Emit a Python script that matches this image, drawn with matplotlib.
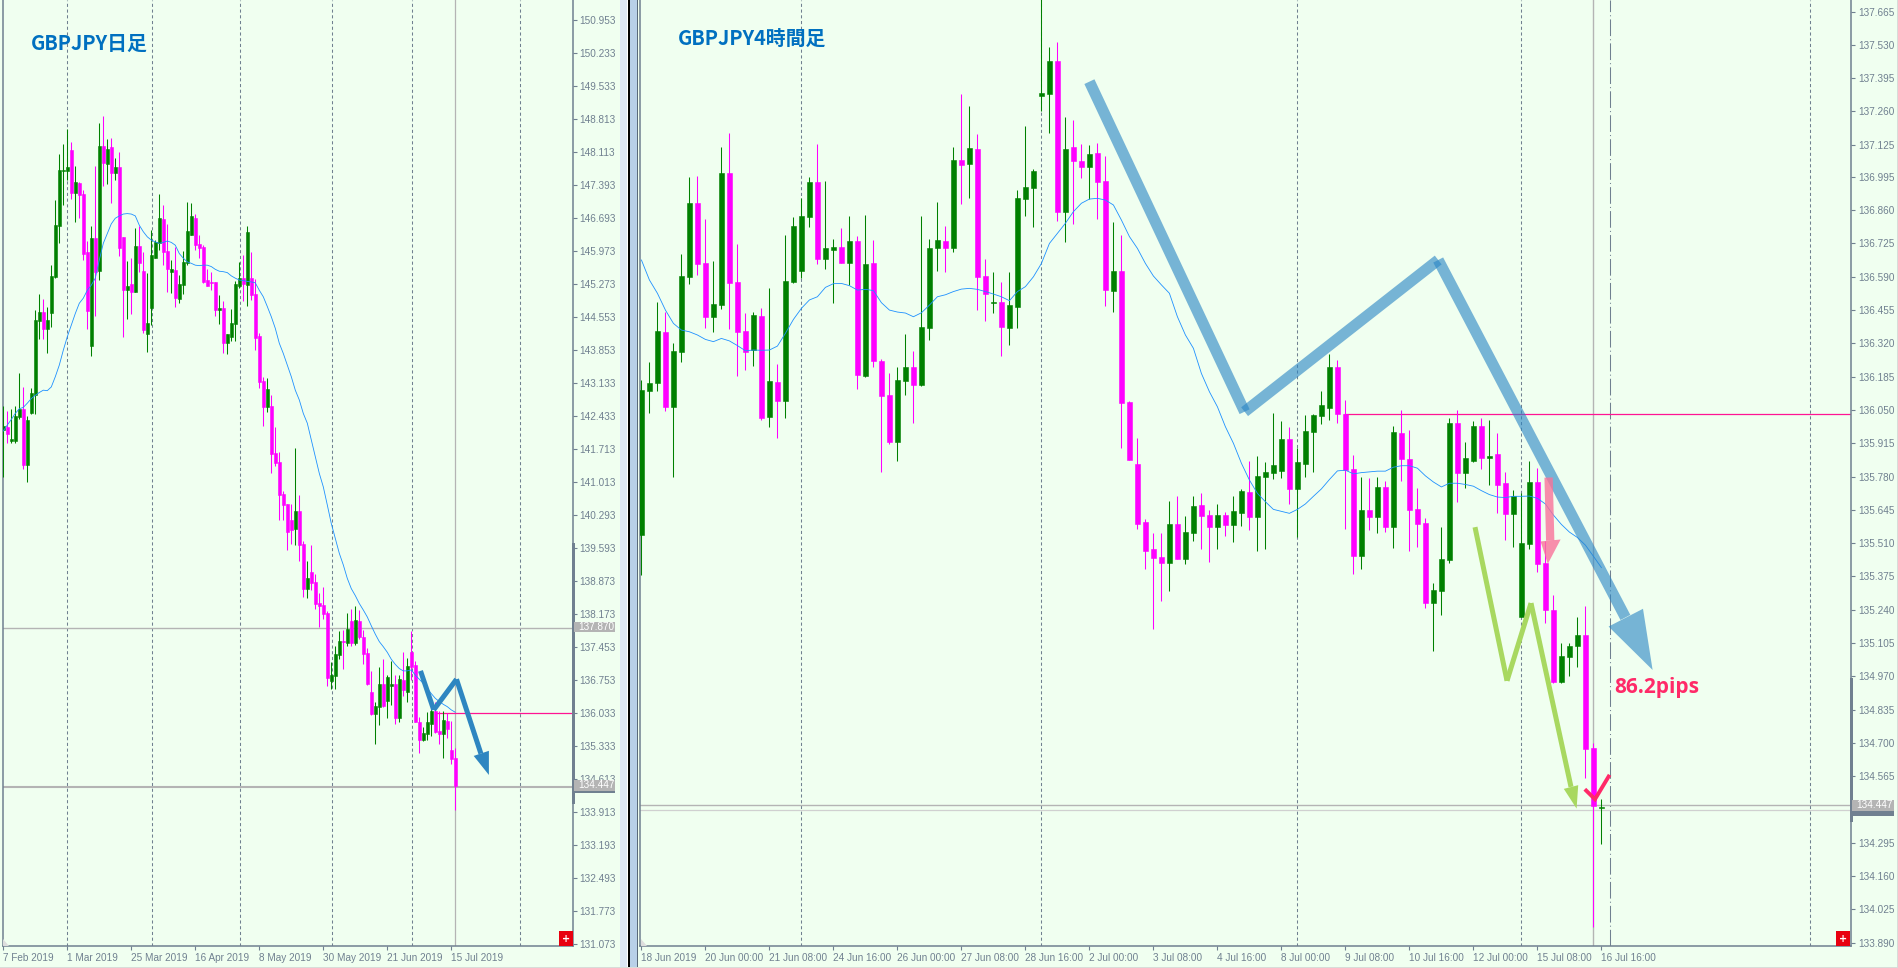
import matplotlib
matplotlib.use("Agg")
import matplotlib.pyplot as plt
from matplotlib.patches import Rectangle, Polygon
from matplotlib.transforms import Affine2D

# ---------- daily chart ----------
d_colour = ("GPGGGPGGGG" "PGGGGGGPGP" "PPGPGPGPGP" "PGPGPPGGGG" "PPGPGGGGPP"
            "PPPPGPGGGG" "PGPPPPGPPP" "PPPGPPGPPP" "PPGGGPGPGP" "PPPGGPGGPG"
            "PGPPPGGGPP" "GPPP")
d_high = [142.64,142.53,142.57,142.64,143.35,143.05,142.42,143.03,144.70,145.05,
          144.94,144.77,145.67,147.07,148.06,148.28,148.61,148.32,147.80,147.46,
          147.29,146.19,146.51,147.80,148.73,148.88,148.38,148.41,147.98,148.10,
          146.28,145.76,145.82,146.47,146.51,145.95,145.50,146.43,146.21,147.20,
          146.96,146.56,145.78,146.06,145.46,145.97,147.03,147.01,146.77,146.32,
          146.10,145.59,145.52,145.31,145.03,144.90,144.19,144.73,145.33,145.74,
          145.89,146.51,145.95,145.37,144.20,143.26,143.24,142.87,142.19,141.65,
          140.81,140.54,140.54,141.73,140.72,139.73,139.30,139.65,139.02,138.61,
          138.74,138.23,137.13,137.47,137.80,137.82,138.18,138.27,138.33,138.25,
          137.82,137.43,136.93,136.27,137.02,137.19,136.85,137.15,136.85,136.85,
          137.34,137.21,137.80,137.15,135.95,135.73,136.05,136.20,136.28,136.07,
          136.07,136.03,135.86,135.28]
d_top = [142.21,142.19,141.93,142.42,142.58,142.58,142.34,142.91,144.49,144.66,
         144.66,144.49,145.44,146.53,147.72,147.72,147.78,148.15,147.46,147.44,
         147.20,145.95,146.25,146.25,148.23,148.23,148.17,148.21,147.78,147.78,
         146.28,145.22,145.26,146.08,146.08,145.54,144.42,145.89,146.17,146.68,
         146.66,145.97,145.59,145.57,145.26,145.74,146.40,146.73,146.68,146.12,
         146.07,145.35,145.31,145.31,144.75,144.75,144.19,144.42,145.26,145.39,
         145.39,146.38,145.39,145.05,144.14,143.18,143.00,142.64,141.63,141.43,
         140.74,140.53,140.18,140.38,140.38,139.67,138.94,139.07,138.85,138.40,
         138.36,138.18,136.85,137.30,137.58,137.58,137.84,138.01,138.03,138.01,
         137.67,137.32,136.48,136.18,136.65,136.65,136.81,136.65,136.65,136.76,
         136.74,137.04,137.34,137.06,135.84,135.60,135.84,136.07,136.07,135.64,
         135.88,135.86,135.23,135.06]
d_bot = [142.12,142.04,141.89,141.89,142.40,141.37,141.37,142.49,142.88,144.47,
         144.30,144.30,144.64,145.41,146.51,147.70,147.70,147.22,147.22,147.18,
         145.91,144.68,143.93,145.52,145.54,147.87,147.85,147.65,147.65,146.04,
         145.13,145.13,145.09,145.09,145.72,144.27,144.19,144.75,145.82,146.15,
         145.95,145.59,145.52,144.96,144.94,145.24,145.72,146.32,146.10,146.04,
         145.31,145.22,145.28,144.70,144.70,143.99,143.99,144.12,144.40,145.22,
         145.26,145.24,145.03,144.10,143.15,142.62,142.62,141.60,141.41,140.72,
         140.51,139.93,139.98,139.99,139.65,138.70,138.70,138.83,138.38,138.33,
         138.16,136.78,136.72,136.83,137.28,137.56,137.54,137.54,137.54,137.67,
         137.30,136.65,136.01,136.01,136.16,136.18,136.29,136.61,135.92,135.92,
         136.53,136.48,137.02,135.84,135.45,135.45,135.58,135.79,135.62,135.58,
         135.58,135.69,135.04,134.46]
d_low = [141.12,141.85,141.85,141.85,142.36,141.28,141.00,142.47,142.47,144.08,
         144.08,143.78,144.34,145.39,146.15,146.96,147.50,147.09,146.60,146.68,
         145.78,144.30,143.71,144.58,145.35,147.37,147.42,147.01,147.50,145.87,
         144.12,144.51,144.62,145.09,145.52,144.21,143.80,144.38,145.82,146.00,
         145.67,145.09,145.07,144.77,144.86,145.05,145.67,146.32,146.00,145.82,
         145.28,145.22,145.13,144.58,144.40,143.78,143.76,144.04,144.04,145.18,
         144.90,144.79,144.92,143.84,143.03,142.21,142.51,141.20,141.35,140.18,
         140.18,139.54,139.68,139.65,139.30,138.53,138.51,138.68,138.27,137.88,
         138.05,136.61,136.55,136.55,137.19,136.98,137.47,137.47,137.49,137.62,
         137.09,136.63,135.99,135.36,135.77,136.17,135.92,136.20,135.79,135.84,
         136.40,136.27,136.74,135.84,135.17,135.43,135.45,135.54,135.60,135.36,
         135.06,135.49,134.93,133.94]
d_ma = [142.10,142.23,142.35,142.48,142.58,142.61,142.70,142.80,142.87,142.93,
        142.98,142.97,143.05,143.27,143.52,143.84,144.13,144.38,144.63,144.85,
        144.96,145.13,145.24,145.39,145.78,146.14,146.35,146.56,146.68,146.73,
        146.77,146.78,146.77,146.73,146.53,146.39,146.28,146.21,146.17,146.14,
        146.16,146.19,146.16,146.10,145.92,145.82,145.74,145.71,145.67,145.66,
        145.67,145.67,145.64,145.58,145.54,145.53,145.51,145.44,145.39,145.35,
        145.34,145.32,145.31,145.29,145.13,144.99,144.78,144.56,144.31,143.99,
        143.77,143.52,143.27,142.98,142.77,142.48,142.27,141.91,141.55,141.19,
        140.90,140.51,140.11,139.79,139.47,139.22,138.93,138.71,138.56,138.39,
        138.25,138.10,137.91,137.73,137.57,137.46,137.34,137.19,137.08,136.99,
        136.94,136.94,136.96,136.85,136.76,136.67,136.56,136.45,136.35,136.28,
        136.22,136.17,136.10,136.05]
d_yticks = [150.953,150.233,149.533,148.813,148.113,147.393,146.693,145.973,145.273,144.553,
            143.853,143.133,142.433,141.713,141.013,140.293,139.593,138.873,138.173,137.453,
            136.753,136.033,135.333,134.613,133.913,133.193,132.493,131.773,131.073]
d_xticks = ["7 Feb 2019","1 Mar 2019","25 Mar 2019","16 Apr 2019","8 May 2019",
            "30 May 2019","21 Jun 2019","15 Jul 2019"]
d_grid = [16,37.1,59.1,82.1,102.1,129.1]

# ---------- 4-hour chart ----------
r_colour = ("GGGPGGGPPG" "GPPPGPGPGG" "GGPGGPGPGP" "PPGGPGGGPG" "PGPPGPGGGG"
            "GGPGPPGPPG" "PPPPPPGPGG" "PPGPGGPGGG" "GPGGGGGPPP" "GPGPGPPPPG"
            "GGPGGPGPPG" "GGPPPGGGPP" "G")
r_high = [136.171,136.243,136.486,136.448,136.320,136.682,136.994,136.998,136.824,136.654,
          137.116,137.171,136.723,136.443,136.447,136.462,136.543,136.236,136.759,136.831,
          136.908,136.994,137.128,136.978,136.743,136.788,136.836,136.755,136.840,136.739,
          136.257,136.200,136.224,136.358,136.289,136.836,136.743,136.893,136.796,137.116,
          137.331,137.282,137.169,136.662,136.609,136.569,136.609,136.942,137.201,137.027,
          137.750,137.521,137.542,137.238,137.226,137.128,137.124,137.132,137.080,136.812,
          136.759,136.086,135.936,135.608,135.551,135.551,135.681,135.701,135.620,135.701,
          135.713,135.644,135.669,135.636,135.701,135.730,135.842,135.863,135.840,136.037,
          136.007,135.981,135.897,136.030,136.034,136.128,136.277,136.252,136.090,135.867,
          135.779,135.776,135.779,135.764,135.984,136.049,135.969,135.733,135.612,135.349,
          135.575,136.019,136.049,135.920,136.007,136.019,136.008,135.957,135.799,135.724,
          135.715,135.844,135.814,135.520,135.300,135.104,135.104,135.210,135.254,134.700,
          134.473]
r_top = [136.131,136.158,136.370,136.366,136.289,136.593,136.889,136.889,136.646,136.480,
         137.011,137.011,136.569,136.370,136.435,136.431,136.167,136.163,136.573,136.796,
         136.836,136.974,136.974,136.707,136.711,136.711,136.735,136.735,136.642,136.646,
         136.248,136.111,136.171,136.224,136.224,136.386,136.707,136.739,136.735,137.063,
         137.063,137.112,137.108,136.593,136.488,136.488,136.475,136.909,136.954,137.019,
         137.335,137.465,137.465,137.108,137.116,137.059,137.088,137.092,136.978,136.613,
         136.613,136.082,135.831,135.596,135.486,135.454,135.588,135.588,135.555,135.661,
         135.665,135.624,135.624,135.624,135.640,135.721,135.717,135.782,135.799,135.826,
         135.932,135.932,135.838,135.963,136.030,136.069,136.224,136.224,136.034,135.811,
         135.644,135.644,135.738,135.738,135.960,135.957,135.850,135.648,135.592,135.320,
         135.444,135.996,135.996,135.855,135.984,135.984,135.862,135.872,135.753,135.703,
         135.510,135.758,135.758,135.429,135.239,135.052,135.093,135.137,135.137,134.681,
         134.440]
r_bot = [135.544,136.127,136.161,136.062,136.062,136.285,136.589,136.642,136.427,136.427,
         136.475,136.565,136.366,136.285,136.293,136.017,136.021,136.086,136.086,136.569,
         136.613,136.832,136.662,136.662,136.698,136.646,136.646,136.192,136.188,136.248,
         136.107,135.920,135.920,136.167,136.151,136.151,136.382,136.707,136.707,136.707,
         137.043,137.047,136.589,136.520,136.484,136.386,136.382,136.467,136.905,136.950,
         137.323,137.331,136.853,136.853,137.059,137.035,137.035,136.974,136.536,136.532,
         136.078,135.847,135.588,135.478,135.450,135.429,135.429,135.446,135.446,135.551,
         135.620,135.575,135.575,135.584,135.584,135.632,135.616,135.616,135.779,135.796,
         135.802,135.730,135.729,135.832,135.961,136.027,136.059,136.034,135.806,135.460,
         135.460,135.618,135.618,135.577,135.577,135.852,135.645,135.589,135.268,135.268,
         135.317,135.441,135.796,135.796,135.843,135.856,135.856,135.745,135.630,135.630,
         135.212,135.508,135.426,135.239,134.946,134.947,135.049,135.095,134.677,134.446,
         134.437]
r_low = [135.381,136.036,136.128,136.047,135.779,136.246,136.561,136.597,136.381,136.366,
         136.459,136.378,136.188,136.212,136.228,136.009,135.982,135.936,136.017,136.565,
         136.584,136.792,136.642,136.621,136.484,136.646,136.557,136.135,136.184,136.224,
         135.798,135.912,135.843,136.111,135.997,136.147,136.334,136.613,136.609,136.690,
         136.885,136.909,136.455,136.411,136.443,136.269,136.313,136.382,136.836,136.792,
         137.262,137.173,136.816,136.731,136.804,136.990,136.905,136.824,136.471,136.447,
         135.896,135.847,135.567,135.405,135.162,135.275,135.316,135.446,135.425,135.519,
         135.486,135.434,135.486,135.539,135.515,135.579,135.563,135.478,135.487,135.770,
         135.776,135.669,135.536,135.779,135.799,135.995,136.008,135.996,135.568,135.385,
         135.406,135.563,135.551,135.555,135.492,135.761,135.479,135.495,135.248,135.074,
         135.218,135.429,135.677,135.733,135.840,135.811,135.745,135.631,135.522,135.495,
         135.209,135.487,135.393,135.186,134.943,134.943,134.970,135.008,134.560,133.955,
         134.291]
r_ma = [136.658,136.577,136.523,136.455,136.401,136.374,136.367,136.354,136.336,136.327,
        136.340,136.330,136.311,136.290,136.293,136.292,136.293,136.309,136.361,136.417,
        136.462,136.496,136.509,136.547,136.562,136.563,136.554,136.536,136.539,136.534,
        136.485,136.455,136.447,136.443,136.428,136.444,136.475,136.509,136.517,136.530,
        136.540,136.543,136.539,136.530,136.520,136.509,136.493,136.530,136.550,136.590,
        136.644,136.725,136.766,136.807,136.854,136.888,136.905,136.908,136.901,136.881,
        136.820,136.753,136.705,136.644,136.593,136.557,136.523,136.428,136.354,136.300,
        136.198,136.124,136.063,135.982,135.915,135.834,135.766,135.712,135.678,135.647,
        135.639,135.631,135.647,135.669,135.700,135.730,135.768,135.803,135.806,135.791,
        135.796,135.799,135.802,135.802,135.818,135.824,135.824,135.814,135.783,135.758,
        135.738,135.753,135.753,135.748,135.741,135.723,135.707,135.697,135.695,135.700,
        135.700,135.701,135.692,135.669,135.624,135.586,135.555,135.533,135.502,135.457,
        135.411]
r_yticks = [137.665,137.530,137.395,137.260,137.125,136.995,136.860,136.725,136.590,136.455,
            136.320,136.185,136.050,135.915,135.780,135.645,135.510,135.375,135.240,135.105,
            134.970,134.835,134.700,134.565,134.430,134.295,134.160,134.025,133.890]
r_xticks = ["18 Jun 2019","20 Jun 00:00","21 Jun 08:00","24 Jun 16:00","26 Jun 00:00",
            "27 Jun 08:00","28 Jun 16:00","2 Jul 00:00","3 Jul 08:00","4 Jul 16:00",
            "8 Jul 00:00","9 Jul 08:00","10 Jul 16:00","12 Jul 00:00","15 Jul 08:00",
            "16 Jul 16:00"]
r_grid = [20,50,82,110,146.1]

# ---------- styles ----------
W, H = 1898, 968
BG = "#F0FFF0"
SLATE = "#708090"
GREEN = "#008000"
PINK = "#FF00FF"
MA = "#1E90FF"
HL = "#FF1493"
GREY = "#B4B4B4"
TICKFONT = ["Liberation Sans", "DejaVu Sans"]
TICKSIZE = 7.2
TITLEFONT = ["Noto Sans CJK JP", "DejaVu Sans"]

fig = plt.figure(figsize=(W / 100, H / 100), dpi=100, facecolor=BG)
px = Affine2D().scale(1, -1).translate(0, H)


def panel(x0, x1, y1, xlim, ylim):
    ax = fig.add_axes([x0 / W, 1 - y1 / H, (x1 - x0) / W, y1 / H], facecolor=BG)
    ax.set_xlim(*xlim)
    ax.set_ylim(*ylim)
    ax.spines["top"].set_visible(False)
    for s in ("left", "right", "bottom"):
        ax.spines[s].set_color(SLATE)
        ax.spines[s].set_linewidth(1.1)
    ax.yaxis.tick_right()
    ax.tick_params(length=3, width=0.8, color=SLATE, labelcolor=SLATE, pad=2, labelsize=TICKSIZE)
    return ax


def candles(ax, high, top, bot, low, colours, width):
    x = list(range(len(high)))
    cols = [GREEN if c == "G" else PINK for c in colours]
    ax.vlines(x, low, high, colors=cols, linewidth=0.75, zorder=3)
    ax.bar(x, [t - b for t, b in zip(top, bot)], bottom=bot, width=width, color=cols,
           edgecolor=cols, linewidth=0.4, zorder=3)


def finish_ticks(ax, yticks, xpos, xlabels):
    ax.set_yticks(yticks)
    ax.set_yticklabels([f"{v:.3f}" for v in yticks], fontfamily=TICKFONT)
    ax.set_xticks(xpos)
    ax.set_xticklabels(xlabels, ha="left", fontfamily=TICKFONT)
    ax.tick_params(axis="x", pad=2)


def pxrect(x0, y0, x1, y1, colour, z=2):
    fig.add_artist(Rectangle((x0, y0), x1 - x0, y1 - y0, transform=px, facecolor=colour,
                             edgecolor="none", zorder=z))


def pxtext(x, y, s, colour="white", **kw):
    fig.text(x, y, s, transform=px, color=colour, va="center", zorder=4, **kw)


def arrow(ax, pts, head, colour, lw, alpha=1.0, z=6):
    for a, b in zip(pts[:-1], pts[1:]):
        ax.plot([a[0], b[0]], [a[1], b[1]], color=colour, lw=lw, alpha=alpha,
                solid_capstyle="butt", zorder=z)
    if head:
        ax.add_patch(Polygon(head, closed=True, facecolor=colour, edgecolor="none",
                             alpha=alpha, zorder=z))


# ---------- left panel ----------
ax1 = panel(2.5, 572.7, 946, (-0.2, 142.35), (131.02, 151.376))
for g in d_grid:
    ax1.axvline(g, color=SLATE, lw=0.75, ls=(0, (3, 2.5)), zorder=1)
ax1.axvline(113, color=GREY, lw=0.9, zorder=1)
ax1.axhline(137.870, color=GREY, lw=1.0, zorder=1)
ax1.axhline(134.447, color=GREY, lw=1.5, zorder=1)
ax1.hlines(136.033, 108, 142.35, color=HL, lw=0.9, zorder=2)
candles(ax1, d_high, d_top, d_bot, d_low, d_colour, 0.62)
ax1.plot(range(len(d_ma)), d_ma, color=MA, lw=0.6, zorder=4)
finish_ticks(ax1, d_yticks, [16 * i for i in range(8)], d_xticks)
arrow(ax1, [(104.3, 136.94), (107.6, 136.10), (113.3, 136.76), (119.4, 135.16)],
      [(117.6, 135.11), (121.4, 135.22), (121.4, 134.70)], "#2E86C1", 3.6)

# ---------- right panel ----------
ax2 = panel(640.3, 1851, 946, (-0.14, 151.2), (133.877, 137.712))
for g in r_grid[:4] + r_grid[4:]:
    ax2.axvline(g, color=SLATE, lw=0.75, ls=(0, (3, 2.5)), zorder=1)
ax2.axvline(121.1, color=SLATE, lw=0.75, ls=(0, (16, 3, 1, 3)), zorder=1)
ax2.axvline(119, color=GREY, lw=1.0, zorder=1)
ax2.axhline(134.447, color=GREY, lw=1.0, zorder=1)
ax2.axhline(134.428, color="#D0D0D0", lw=0.9, zorder=1)
ax2.hlines(136.035, 87.8, 151.2, color=HL, lw=0.9, zorder=2)
candles(ax2, r_high, r_top, r_bot, r_low, r_colour, 0.6)
ax2.plot(range(len(r_ma)), r_ma, color=MA, lw=0.6, zorder=4)
finish_ticks(ax2, r_yticks, [8 * i for i in range(16)], r_xticks)

BLUE2 = "#2B86C5"
arrow(ax2, [(56.0, 137.381), (75.4, 136.043)], None, BLUE2, 8.0, alpha=0.62)
arrow(ax2, [(75.4, 136.043), (99.6, 136.658)], None, BLUE2, 8.0, alpha=0.62)
arrow(ax2, [(99.6, 136.658), (123.0, 135.209)], None, BLUE2, 8.0, alpha=0.62)
ax2.add_patch(Polygon([(120.9, 135.172), (125.2, 135.244), (126.4, 134.996)], closed=True,
                      facecolor=BLUE2, edgecolor="none", alpha=0.62, zorder=6))
arrow(ax2, [(104.2, 135.575), (108.2, 134.952), (111.2, 135.267), (116.2, 134.522)],
      [(115.3, 134.514), (117.1, 134.529), (116.9, 134.434)], "#A8D860", 3.6)
arrow(ax2, [(113.4, 135.776), (113.6, 135.52)],
      [(112.4, 135.517), (114.9, 135.525), (113.3, 135.426)], "#F9729A", 6.0, alpha=0.8)
ax2.plot([118.1, 119.2, 120.9], [134.507, 134.472, 134.564], color="#FF2A68", lw=2.8,
         solid_joinstyle="miter", zorder=7)
ax2.text(121.6, 134.925, "86.2pips", color="#FF2A68", fontsize=15, fontweight="bold",
         family=["Open Sans", "DejaVu Sans"], va="center", ha="left", zorder=7)

# ---------- titles ----------
pxtext(30.5, 43, "GBPJPY日足", colour="#0070C0", fontsize=14.3, fontweight="bold", family=TITLEFONT)
pxtext(678, 38, "GBPJPY4時間足", colour="#0070C0", fontsize=14.3, fontweight="bold", family=TITLEFONT)

# ---------- terminal chrome ----------
pxrect(620, 0, 627, H, "#DCE6F4")
pxrect(627, 0, 628, H, "#FFFFFF")
pxrect(628, 0, 629.5, H, "#000000")
pxrect(629.5, 0, 637.3, H, "#B8D0E8")
pxrect(637.3, 0, 638.2, H, "#5A6A7A")
pxrect(0, 966.7, W, H, "#D8DCD8")
pxrect(1897, 0, W, H, "#D8DCD8")

# axis scroll markers and price flags
pxrect(571.5, 542.7, 574.5, 804, SLATE)
pxrect(1849.7, 678, 1852.7, 822, SLATE)
pxrect(573.5, 621.7, 615, 631.7, GREY)
pxtext(578, 626.7, "137.870", family=TICKFONT, fontsize=TICKSIZE)
pxrect(573.5, 780, 615, 790.7, GREY)
pxrect(573.5, 790.7, 615, 792.7, SLATE)
pxtext(578, 785.3, "134.447", family=TICKFONT, fontsize=TICKSIZE)
pxrect(1852.4, 811, 1894, 816, SLATE)
pxrect(1852.4, 800, 1894, 811, GREY)
pxtext(1856.7, 805.5, "134.447", family=TICKFONT, fontsize=TICKSIZE)

# red buttons
for x0 in (559.4, 1836):
    pxrect(x0, 931, x0 + 14, 945.5, "#E8000F")
    pxtext(x0 + 7, 939, "+", family="DejaVu Sans", fontsize=7, ha="center", fontweight="bold")

# corner markers
for x0 in (3, 641):
    fig.add_artist(Polygon([(x0, 939), (x0, 945.5), (x0 + 6, 945.5)], closed=True, transform=px,
                           facecolor="#DDDDDD", edgecolor="none", zorder=2))

fig.savefig("out.png", dpi=100, facecolor=BG)
